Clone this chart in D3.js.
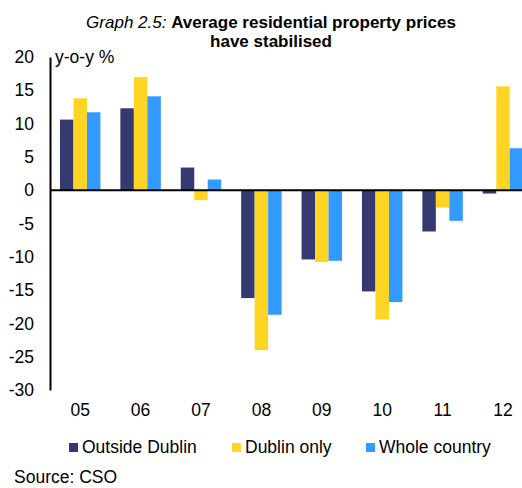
<!DOCTYPE html>
<meta charset="utf-8">
<html>
<head>
    <meta charset="utf-8">
    <script src="https://d3js.org/d3.v7.min.js"></script>
    <style>
        body { margin: 0; background: #fff; }
        text { font-family: "Liberation Sans", Arial, sans-serif; fill: #000; }
    </style>
</head>
<body>
    <svg width="522" height="488"></svg>

    <script>
        // data
        var years = ["05", "06", "07", "08", "09", "10", "11", "12"];
        var seriesNames = ["Outside Dublin", "Dublin only", "Whole country"];
        var outsideDublin = [10.6, 12.3, 3.4, -16.2, -10.4, -15.2, -6.2, -0.5];
        var dublinOnly = [13.8, 17.0, -1.5, -24.0, -10.8, -19.4, -2.6, 15.6];
        var wholeCountry = [11.7, 14.1, 1.6, -18.7, -10.6, -16.8, -4.6, 6.3];
        var yTicks = [20, 15, 10, 5, 0, -5, -10, -15, -20, -25, -30];

        var colors = ["#343a70", "#ffd524", "#339bff"];
        var allSeries = [outsideDublin, dublinOnly, wholeCountry];
        var fs = "17.5px";

        var svg = d3.select("svg");

        var plotLeft = 50, plotTop = 57, plotBottom = 390;
        var step = 60.4;
        var plotRight = plotLeft + step * years.length;

        var x = d3.scaleBand().domain(years).range([plotLeft, plotRight]).paddingInner(0.33).paddingOuter(0.165);
        var xs = d3.scaleBand().domain(seriesNames).range([0, x.bandwidth()]);
        var y = d3.scaleLinear().domain([-30, 20]).range([plotBottom, plotTop]);

        // title
        var title = svg.append("text")
            .attr("x", 271)
            .attr("y", 28)
            .attr("text-anchor", "middle")
            .style("font-size", "17px");
        title.append("tspan").style("font-style", "italic").text("Graph 2.5: ");
        title.append("tspan").style("font-weight", "bold").text("Average residential property prices");
        svg.append("text")
            .attr("x", 271)
            .attr("y", 47)
            .attr("text-anchor", "middle")
            .style("font-size", "17px")
            .style("font-weight", "bold")
            .text("have stabilised");

        // bars
        var rows = [];
        years.forEach(function (yr, i) {
            seriesNames.forEach(function (s, j) {
                rows.push({ year: yr, series: s, value: allSeries[j][i], color: colors[j] });
            });
        });

        svg.append("g").selectAll("rect")
            .data(rows)
            .enter().append("rect")
            .attr("x", function (d) { return x(d.year) + xs(d.series); })
            .attr("width", xs.bandwidth())
            .attr("y", function (d) { return y(Math.max(0, d.value)); })
            .attr("height", function (d) { return Math.abs(y(d.value) - y(0)); })
            .attr("fill", function (d) { return d.color; });

        // y axis (plain hyphen for negatives, like the original)
        var yAxis = svg.append("g")
            .attr("transform", "translate(" + plotLeft + ",0)")
            .call(d3.axisLeft(y).tickValues(yTicks).tickSize(0).tickPadding(16)
                .tickFormat(function (d) { return String(d); }));
        yAxis.select(".domain").attr("stroke", "#000").attr("stroke-width", 2);
        yAxis.selectAll("text").style("font-size", fs).style("font-family", "Liberation Sans, Arial, sans-serif").attr("fill", "#000");

        // zero line
        svg.append("line")
            .attr("x1", plotLeft).attr("x2", 522)
            .attr("y1", y(0)).attr("y2", y(0))
            .attr("stroke", "#000").attr("stroke-width", 2);

        // x labels
        var xAxis = svg.append("g")
            .attr("transform", "translate(0," + plotBottom + ")")
            .call(d3.axisBottom(x).tickSize(0).tickPadding(14));
        xAxis.select(".domain").remove();
        xAxis.selectAll("text").style("font-size", fs).style("font-family", "Liberation Sans, Arial, sans-serif").attr("fill", "#000");

        // unit label
        svg.append("text")
            .attr("x", 55)
            .attr("y", 63)
            .style("font-size", fs)
            .text("y-o-y %");

        // legend
        var legendX = [69, 232, 366];
        var legend = svg.append("g").selectAll("g")
            .data(seriesNames)
            .enter().append("g")
            .attr("transform", function (d, i) { return "translate(" + legendX[i] + ",443)"; });
        legend.append("rect")
            .attr("width", 9).attr("height", 9)
            .attr("fill", function (d, i) { return colors[i]; });
        legend.append("text")
            .attr("x", 13)
            .attr("y", 10)
            .style("font-size", fs)
            .text(function (d) { return d; });

        // source
        svg.append("text")
            .attr("x", 14)
            .attr("y", 483)
            .style("font-size", fs)
            .text("Source: CSO");
    </script>
</body>
</html>
